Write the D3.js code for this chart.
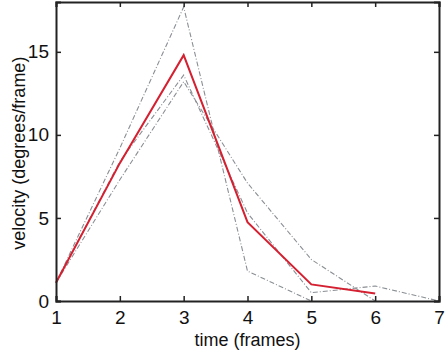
<!DOCTYPE html>
<html>
<head>
<meta charset="utf-8">
<script src="https://cdn.jsdelivr.net/npm/d3@7"></script>
<style>
  body { margin: 0; background: #fff; }
  text { font-family: "Liberation Sans", Arial, sans-serif; fill: #111; }
</style>
</head>
<body>
<script>
// frames and velocities
const xTicks = [1, 2, 3, 4, 5, 6, 7];
const yTicks = [0, 5, 10, 15];

const trialA = [[1, 1.1], [2, 9.2], [3, 17.7], [4, 1.8], [5, 0]];
const trialB = [[1, 1.1], [2, 7.3], [3, 13.2], [4, 7.1], [5, 2.5], [6, 0]];
const trialC = [[1, 1.1], [2, 8.4], [3, 13.6], [4, 5.3], [5, 0.5], [6, 0.9], [7, 0]];
const meanVel = [[1, 1.1], [2, 8.3], [3, 14.8], [4, 4.75], [5, 1.0], [6, 0.45]];

const width = 445, height = 351;
const margin = { top: 2, right: 6, bottom: 50, left: 56 };
const w = width - margin.left - margin.right;
const h = height - margin.top - margin.bottom;

const svg = d3.select("body").append("svg")
    .attr("width", width)
    .attr("height", height);

const g = svg.append("g")
    .attr("transform", `translate(${margin.left},${margin.top})`);

const x = d3.scaleLinear().domain([1, 7]).range([0, w]);
const y = d3.scaleLinear().domain([0, 18]).range([h, 0]);

// gray dash-dot trials
const line = d3.line().x(d => x(d[0])).y(d => y(d[1]));
[trialA, trialB, trialC].forEach(t => {
  g.append("path")
    .attr("d", line(t))
    .attr("fill", "none")
    .attr("stroke", "#8a8f94")
    .attr("stroke-width", 1.1)
    .attr("stroke-dasharray", "5,2,1,2");
});

// mean in red
g.append("path")
  .attr("d", line(meanVel))
  .attr("fill", "none")
  .attr("stroke", "#d42030")
  .attr("stroke-width", 2);

// axes, matlab style box with inward ticks
const tickLen = 5;
const fmt = d3.format("d");
const axB = g.append("g").attr("transform", `translate(0,${h})`)
  .call(d3.axisBottom(x).tickValues(xTicks).tickSize(-tickLen).tickPadding(9).tickFormat(fmt));
const axT = g.append("g")
  .call(d3.axisTop(x).tickValues(xTicks).tickSize(-tickLen).tickFormat(""));
const axL = g.append("g")
  .call(d3.axisLeft(y).tickValues(yTicks).tickSize(-tickLen).tickPadding(7).tickFormat(fmt));
const axR = g.append("g").attr("transform", `translate(${w},0)`)
  .call(d3.axisRight(y).tickValues(yTicks).tickSize(-tickLen).tickFormat(""));

[axB, axT, axL, axR].forEach(a => {
  a.select(".domain").attr("stroke", "#222").attr("stroke-width", 2);
  a.selectAll(".tick line").attr("stroke", "#222").attr("stroke-width", 1.5);
  a.selectAll("text").style("font-size", "19px").attr("fill", "#111");
});
axB.selectAll("text").attr("dy", "0.72em");

// axis titles
svg.append("text")
  .attr("x", margin.left + x(4))
  .attr("y", 346)
  .attr("text-anchor", "middle")
  .style("font-size", "18px")
  .text("time (frames)");

svg.append("text")
  .attr("transform", `translate(25,${margin.top + y(8.9)}) rotate(-90)`)
  .attr("text-anchor", "middle")
  .style("font-size", "18px")
  .text("velocity (degrees/frame)");
</script>
</body>
</html>
